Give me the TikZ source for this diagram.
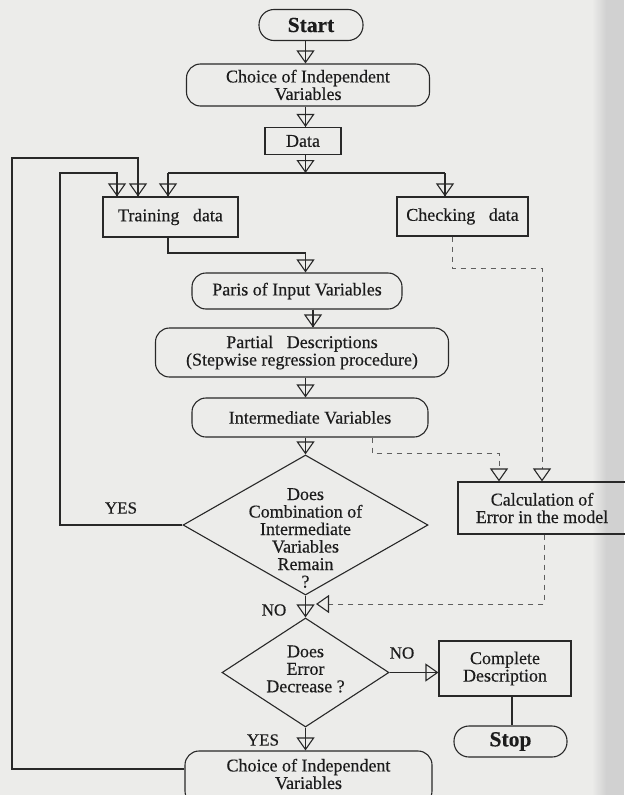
\documentclass[tikz,border=0pt]{standalone}
\usepackage{fontspec}
\setmainfont{Liberation Serif}
\newfontfamily\dgfont{Liberation Serif}[FakeBold=0.35]
\usetikzlibrary{shapes.geometric,arrows.meta,calc}
\definecolor{bg}{RGB}{236,236,234}
\definecolor{ink}{RGB}{40,40,40}
\definecolor{txt}{RGB}{28,28,28}
\definecolor{dashc}{RGB}{95,95,95}
\begin{document}
\begin{tikzpicture}[x=1pt,y=-1pt,
  every node/.style={font=\dgfont\fontsize{18}{17.5}\selectfont, text=txt, align=center, inner sep=0pt},
  box/.style={draw=ink, line width=1.1pt, rectangle},
  rbox/.style={box, rounded corners=14pt},
  bigbold/.style={font=\dgfont\fontsize{21.5}{22}\selectfont\bfseries},
  dia/.style={draw=ink, line width=1.1pt, diamond, inner sep=0pt},
  ln/.style={draw=ink, line width=1.1pt},
  arr/.style={ln, -{Triangle[open,width=18pt,length=13pt]}, postaction={draw=ink, line width=1.1pt, -}},
  dsh/.style={draw=dashc, line width=0.8pt, dash pattern=on 5pt off 5pt},
  darr/.style={dsh, -{Triangle[open,width=18pt,length=13pt,color=ink,line width=1.1pt]}},
  lbl/.style={font=\dgfont\fontsize{17}{17}\selectfont}
]
\useasboundingbox (0,0) rectangle (624,795);
\fill[bg] (0,0) rectangle (624,795);
\shade[left color=bg, right color=black!18] (592,0) rectangle (606,795);
\fill[black!18] (606,0) rectangle (624,795);

% column coordinates
\coordinate (cx) at (305.5,0);
\coordinate (cx2) at (313,0);

% nodes
\node[rbox, bigbold, minimum width=104pt, minimum height=31pt, rounded corners=15pt] (start) at (311,25) {Start};
\node[rbox, minimum width=243pt, minimum height=42pt] (choice) at (308,85) {Choice of Independent\\Variables};
\node[box, minimum width=76pt, minimum height=27pt] (data) at (303,141) {Data};
\node[box, minimum width=135pt, minimum height=40pt] (train) at (170.5,217) {Training\hspace{0.5em} data};
\node[box, minimum width=131pt, minimum height=39pt] (check) at (462.5,216.5) {Checking\hspace{0.5em} data};
\node[rbox, minimum width=210pt, minimum height=36pt] (pairs) at (297,291) {Paris of Input Variables};
\node[rbox, minimum width=293pt, minimum height=49pt] (partial) at (302,352.5) {Partial\hspace{0.5em} Descriptions\\(Stepwise regression procedure)};
\node[rbox, minimum width=236pt, minimum height=39pt] (inter) at (310,417.5) {Intermediate Variables};
\node[dia, minimum width=245pt, minimum height=140pt] (d1) at (305.5,525) {};
\node (d1t) at (305.5,538) {Does\\Combination of\\Intermediate\\Variables\\Remain\\?};
\node[box, minimum width=168pt, minimum height=52pt] (calc) at (542,508) {Calculation of\\Error in the model};
\node[dia, minimum width=167pt, minimum height=109pt] (d2) at (305.5,672.5) {};
\node (d2t) at (305.5,669) {Does\\Error\\Decrease ?};
\node[box, minimum width=132pt, minimum height=55pt] (complete) at (505,668.5) {Complete\\Description};
\node[rbox, bigbold, minimum width=113pt, minimum height=31pt, rounded corners=15pt] (stop) at (510.5,741.5) {Stop};
\node[rbox, minimum width=247pt, minimum height=54pt] (choice2) at (308.5,778) {};
\node (choice2t) at (308.5,774) {Choice of Independent\\Variables};

% labels
\node[lbl] (yes1) at (121,508) {YES};
\node[lbl] (no1) at (274,610) {NO};
\node[lbl] (no2) at (402,653) {NO};
\node[lbl] (yes2) at (263,740) {YES};

% helper coordinates
\coordinate (j) at (305.5,173);
\coordinate (hl) at (168,173);
\coordinate (hr) at (445,173);
\coordinate (tb) at (168,253);
\coordinate (ly) at (60,173);
\coordinate (ta1) at (117,0);
\coordinate (lo) at (12,158);
\coordinate (ta2) at (138,0);
\coordinate (sx) at (512,0);
\coordinate (c1) at (452,0);
\coordinate (c2) at (542,268);
\coordinate (i1) at (372,0);
\coordinate (i2) at (499,453);
\coordinate (e1) at (544,604);
\coordinate (e2) at (316,604);

% main flow
\draw[arr] (start.south -| cx) -- (choice.north -| cx);
\draw[arr] (choice.south -| cx) -- (data.north -| cx);
\draw[arr] (data.south -| cx) -- (j);
\draw[ln] (hl) -- (hr);
\draw[arr] (hl) -- (train.north -| hl);
\draw[arr] (hr) -- (check.north -| hr);
\draw[arr] (train.south -| hl) -- (tb) -| (pairs.north -| cx);
\draw[arr] (pairs.south -| cx2) -- (partial.north -| cx2);
\draw[arr] (partial.south -| cx) -- (inter.north -| cx);
\draw[arr] (inter.south -| cx) -- (d1.north);
\draw[arr] (d1.south) -- (d2.north);
\draw[arr] (d1.west) -| (ly) -| (train.north -| ta1);
\draw[arr] ([yshift=9pt]choice2.west) -| (lo) -| (train.north -| ta2);
\draw[arr] (d2.east) -- (complete.west |- d2.east);
\draw[ln] (complete.south -| sx) -- (stop.north -| sx);
\draw[arr] (d2.south) -- (choice2.north -| d2.south);

% dashed flow
\draw[darr] (check.south -| c1) |- (c2) -- (calc.north -| c2);
\draw[darr] (inter.south -| i1) |- (i2) -- (calc.north -| i2);
\draw[darr] (calc.south -| e1) -- (e1) -- (e2);
\end{tikzpicture}
\end{document}
